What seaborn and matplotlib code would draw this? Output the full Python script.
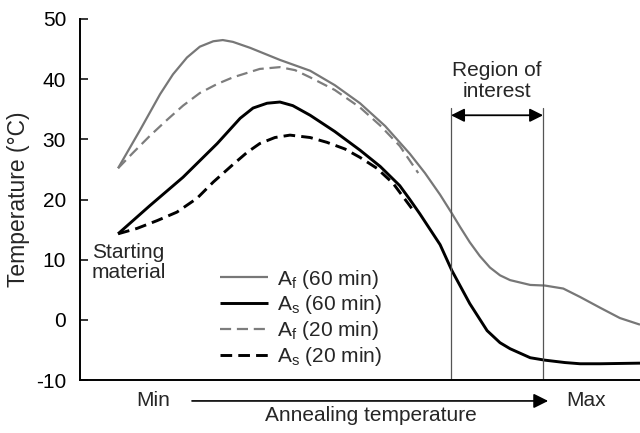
import matplotlib
matplotlib.use("Agg")
import matplotlib.pyplot as plt
import seaborn as sns
import pandas as pd

# ---- data (x in arbitrary annealing-temperature units, 0 = Min, 100 = Max) ----
af60_x = [6.8, 10.7, 14.3, 16.6, 19.1, 21.4, 23.8, 25.5, 27.3, 30.4, 35.7, 41.1, 45.5,
          50.0, 54.5, 58.9, 61.6, 64.3, 66.4, 67.9, 69.6, 71.4, 73.2, 75.0, 76.8, 80.4,
          83.0, 86.3, 89.3, 92.9, 96.4, 100.0]
af60_y = [25.2, 31.5, 37.5, 40.8, 43.6, 45.4, 46.3, 46.5, 46.2, 45.2, 43.2, 41.4, 39.0,
          36.0, 32.2, 27.6, 24.4, 20.8, 17.7, 15.4, 12.9, 10.6, 8.7, 7.4, 6.6, 5.8,
          5.7, 5.2, 3.8, 2.0, 0.3, -0.8]

as60_x = [6.8, 12.5, 18.4, 24.5, 28.6, 30.9, 33.4, 35.7, 38.0, 41.1, 45.5, 50.0, 53.6,
          57.1, 58.9, 60.7, 64.3, 66.4, 69.6, 72.7, 75.0, 76.8, 80.4, 83.0, 86.6, 89.3,
          92.9, 96.4, 100.0]
as60_y = [14.3, 19.0, 23.7, 29.3, 33.5, 35.2, 36.0, 36.2, 35.6, 34.0, 31.3, 28.2, 25.5,
          22.3, 20.0, 17.6, 12.5, 8.2, 2.7, -1.8, -3.8, -4.8, -6.3, -6.7, -7.1, -7.3,
          -7.3, -7.25, -7.2]

af20_x = [6.8, 9.5, 12.5, 15.5, 18.4, 21.4, 24.5, 27.3, 32.1, 35.7, 38.4, 41.1, 45.5,
          50.0, 53.6, 57.1, 60.4]
af20_y = [25.2, 27.8, 30.6, 33.2, 35.6, 37.7, 39.2, 40.3, 41.7, 42.0, 41.5, 40.3, 38.2,
          35.3, 32.3, 28.9, 24.4]

as20_x = [6.8, 10.2, 13.8, 17.3, 20.9, 23.8, 27.3, 29.8, 32.1, 34.8, 37.5, 41.1, 44.1,
          47.3, 50.0, 53.0, 55.9, 59.5]
as20_y = [14.3, 15.2, 16.5, 17.9, 20.2, 22.9, 25.8, 27.8, 29.3, 30.3, 30.7, 30.3, 29.5,
          28.4, 27.0, 25.2, 22.7, 18.2]

labels = [r"A$_\mathregular{f}$ (60 min)", r"A$_\mathregular{s}$ (60 min)",
          r"A$_\mathregular{f}$ (20 min)", r"A$_\mathregular{s}$ (20 min)"]
region_x = [66.25, 82.7]
yticks = [-10, 0, 10, 20, 30, 40, 50]

# ---- style ----
sns.set_style("white")
plt.rcParams["font.family"] = ["Liberation Sans", "DejaVu Sans"]
plt.rcParams["mathtext.fontset"] = "custom"
plt.rcParams["mathtext.rm"] = "Liberation Sans"
plt.rcParams["mathtext.it"] = "Liberation Sans:italic"
plt.rcParams["axes.unicode_minus"] = False
FS = 15

fig = plt.figure(figsize=(6.4, 4.33), dpi=100)
ax = fig.add_axes([80 / 640, 1 - 380 / 433, 560 / 640, 361 / 433])

series = [
    (af60_x, af60_y, "#777777", 1.6, None),
    (as60_x, as60_y, "#000000", 2.1, None),
    (af20_x, af20_y, "#7d7d7d", 1.6, (5, 2.6)),
    (as20_x, as20_y, "#000000", 2.1, (4.0, 2.1)),
]
for (xs, ys, c, lw, dash), lab in zip(series, labels):
    df = pd.DataFrame({"x": xs, "y": ys})
    line_kw = dict(color=c, lw=lw, label=lab, solid_capstyle="butt",
                   solid_joinstyle="round", dash_joinstyle="round")
    if dash is not None:
        line_kw["dashes"] = dash
    sns.lineplot(data=df, x="x", y="y", ax=ax, sort=False, **line_kw)

ax.set_xlim(0, 100)
ax.set_ylim(-10, 50)
ax.set_yticks(yticks)
ax.set_xticks([])
ax.set_xlabel("")
ax.set_ylabel("Temperature (°C)", fontsize=16.5, labelpad=4)
ax.tick_params(axis="y", direction="in", length=6, width=1.1, pad=10,
               labelsize=FS, left=True, colors="black")
for s in ["top", "right"]:
    ax.spines[s].set_visible(False)
for s in ["left", "bottom"]:
    ax.spines[s].set_linewidth(1.4)
    ax.spines[s].set_color("black")

# region of interest
for xv in region_x:
    ax.plot([xv, xv], [-10, 35.2], color="#555555", lw=0.9)
ax.annotate("", xy=(region_x[0], 34.0), xytext=(region_x[1], 34.0),
            arrowprops=dict(arrowstyle="<|-|>", color="black", lw=1.3,
                            mutation_scale=20, shrinkA=0, shrinkB=0))
ax.text(74.5, 39.7, "Region of\ninterest", ha="center", va="center",
        fontsize=FS, linespacing=1.1)

ax.text(2.1, 9.5, "Starting\nmaterial", ha="left", va="center",
        fontsize=FS, linespacing=1.1)

# bottom annotation
ax.text(0.1304, -0.058, "Min", transform=ax.transAxes, ha="center",
        va="center", fontsize=FS, clip_on=False)
ax.text(0.903, -0.058, "Max", transform=ax.transAxes, ha="center",
        va="center", fontsize=FS, clip_on=False)
ax.annotate("", xy=(0.836, -0.058), xytext=(0.2, -0.058),
            xycoords="axes fraction", textcoords="axes fraction",
            arrowprops=dict(arrowstyle="-|>", color="black", lw=1.2,
                            mutation_scale=22, shrinkA=0, shrinkB=0),
            annotation_clip=False)
ax.text(0.52, -0.097, "Annealing temperature", transform=ax.transAxes,
        ha="center", va="center", fontsize=FS, clip_on=False)

leg = ax.legend(loc="center left", bbox_to_anchor=(0.25, 0.172), frameon=False,
                fontsize=FS, handlelength=2.3, handletextpad=0.45,
                labelspacing=0.14, borderpad=0, borderaxespad=0)

fig.savefig("out.png", dpi=100, facecolor="white")
